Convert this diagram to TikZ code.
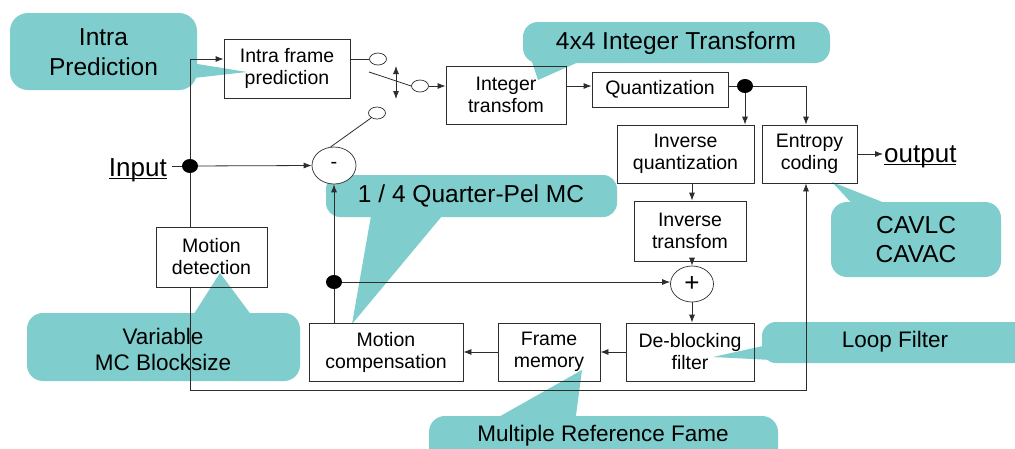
\documentclass[tikz,border=0pt]{standalone}
\usepackage{fontspec}
\setmainfont{Liberation Sans}
\usetikzlibrary{shapes.geometric,arrows.meta,calc}
\definecolor{tealtag}{RGB}{127,205,205}
\definecolor{ink}{RGB}{45,45,45}
\newcommand\boxfont{\fontsize{19.5}{22}\selectfont}
\newcommand\tagfont{\fontsize{24.5}{30}\selectfont}
\newcommand\tagfontsm{\fontsize{22.5}{26}\selectfont}
\newcommand\iofont{\fontsize{26}{30}\selectfont}
% underline set just below the baseline
\newcommand\ulword[1]{\setbox0\hbox{#1}\rlap{\rule[-3.2pt]{\wd0}{1pt}}\box0}

\begin{document}
\begin{tikzpicture}[x=1pt,y=-1pt,
  wire/.style={draw=ink,line width=0.8pt},
  arr/.style={wire,-{Latex[length=8pt,width=6pt]}},
  dblarr/.style={wire,{Latex[length=8pt,width=6pt]}-{Latex[length=8pt,width=6pt]}},
  blk/.style={draw=ink,line width=0.8pt,inner sep=0pt,align=center,font=\boxfont},
  jdot/.style={ellipse,fill=black,minimum width=16pt,minimum height=14pt,inner sep=0pt},
  swc/.style={ellipse,draw=ink,line width=0.7pt,fill=white,minimum width=17pt,minimum height=12pt,inner sep=0pt},
  opc/.style={ellipse,draw=ink,line width=0.7pt,fill=white,minimum width=44pt,minimum height=37pt,inner sep=0pt},
  tag/.style={fill=tealtag},
  tagtext/.style={align=center,inner sep=0pt,font=\tagfont},
  tagtextsm/.style={align=center,inner sep=0pt,font=\tagfontsm},
]
\useasboundingbox (0,0) rectangle (1015,448);
\fill[white] (0,0) rectangle (1015,448);
\clip (0,0) rectangle (1015,448);

% ---- callouts (drawn underneath the block diagram) ----
\fill[tag,rounded corners=18pt] (10,13) rectangle (197,90);
\fill[tag] (185,62) -- (247,72) -- (185,79) -- cycle;
\node[tagtext] (tIntra) at (103.5,52) {Intra\\Prediction};

\fill[tag,rounded corners=15pt] (523,22) rectangle (830,63);
\fill[tag] (530,56) -- (538,80) -- (592,56) -- cycle;
\node[tagtext] (tInt) at (676,43) {4x4 Integer Transform};

\fill[tag,rounded corners=14pt] (326,175) rectangle (617,217);
\fill[tag] (372,210) -- (352,324) -- (447,210) -- cycle;
\node[tagtext] (tQpel) at (471,196) {1 / 4 Quarter-Pel MC};

\fill[tag,rounded corners=16pt] (831,202) rectangle (1001,277);
\fill[tag] (857,209) -- (832,182) -- (900,209) -- cycle;
\node[tagtext,font=\fontsize{24.5}{29}\selectfont] (tCav) at (916,240) {CAVLC\\CAVAC};

\fill[tag,rounded corners=14pt] (762,322) rectangle (1035,363);
\fill[tag] (772,344) -- (713,357) -- (772,360) -- cycle;
\node[tagtextsm] (tLoop) at (895,342) {Loop Filter};

\fill[tag,rounded corners=16pt] (429,416) rectangle (778,470);
\fill[tag] (488,423) -- (582,370) -- (575,423) -- cycle;
\node[tagtextsm] (tMulti) at (603,436) {Multiple Reference Fame};

\fill[tag,rounded corners=16pt] (27,313) rectangle (300,381);
\fill[tag] (190,320) -- (220,273) -- (255,320) -- cycle;
\node[tagtextsm] (tVar) at (163,349) {Variable\\MC Blocksize};

% ---- blocks ----
\node[blk,minimum width=126pt,minimum height=59pt] (intra) at (287,68.5) {Intra frame\\prediction};
\node[blk,minimum width=120pt,minimum height=58pt] (itr) at (506,95) {Integer\\transfom};
\node[blk,minimum width=136pt,minimum height=35pt] (quant) at (660,89.5) {Quantization};
\node[blk,minimum width=137pt,minimum height=58pt] (iq) at (685.5,154) {Inverse\\quantization};
\node[blk,minimum width=95pt,minimum height=58pt] (ent) at (809.5,154) {Entropy\\coding};
\node[blk,minimum width=112pt,minimum height=60pt] (it) at (690,231) {Inverse\\transfom};
\node[blk,minimum width=128pt,minimum height=58pt] (db) at (690,352) {De-blocking\\filter};
\node[blk,minimum width=102pt,minimum height=58pt] (fm) at (549,352) {Frame\\memory};
\node[blk,minimum width=154pt,minimum height=58pt] (mc) at (386,352) {Motion\\compensation};
\node[blk,minimum width=111pt,minimum height=60pt] (md) at (211.5,257) {Motion\\detection};

% ---- adders ----
\node[opc] (minus) at (334,165.5) {\fontsize{20}{20}\selectfont -};
\node[opc,minimum width=43pt,minimum height=36pt] (plus) at (692,284) {\fontsize{26}{26}\selectfont +};

% ---- switch ----
\node[swc] (s1) at (378,59) {};
\node[swc] (s2) at (420,86) {};
\node[swc] (s3) at (377,113) {};
\coordinate (lever) at (369,72);
\coordinate (tgA) at (396,66);
\coordinate (tgB) at (396,99);

% ---- input / output ----
\node[font=\iofont,inner sep=0pt,anchor=base east] (input) at (167,176) {\ulword{Input}};
\node[font=\iofont,inner sep=0pt,anchor=base west] (output) at (884,162) {\ulword{output}};

% ---- connectors ----
\coordinate (j1) at (190,59);
\coordinate (ej) at (806,86);
\coordinate (bl) at (190,390);

\draw[wire] ($(input.east |- 0,166)+(5,0)$) -- (190,166) coordinate (injoin);
\draw[arr] (injoin) -- (j1) -- (intra.west |- j1);
\draw[arr] (injoin) -- (minus.west);
\draw[wire] (injoin) -- (injoin |- md.north);
\draw[arr] (injoin |- md.south) -- (bl) -| (ent.south -| ej);

\draw[wire] (intra.east |- s1) -- (s1.west);
\draw[wire] (lever) -- (s2.west);
\draw[dblarr] (tgA) -- (tgB);
\draw[wire] (minus.100) -- (s3.220);
\draw[arr] (s2.east) -- (itr.west |- s2);
\draw[arr] (itr.east |- s2) -- (quant.west |- s2);

\draw[wire] (quant.east |- 0,86) -- (745,86) coordinate (qjoin);
\draw[arr] (qjoin) -- (qjoin |- iq.north);
\draw[arr] (qjoin) -- (ej) -- (ej |- ent.north);
\draw[arr] (ent.east) -- ($(output.west |- ent.east)+(-1,0)$);

\draw[arr] (iq.south -| plus) -- (it.north -| plus);
\draw[arr] (it.south -| plus) -- (plus.north);
\draw[arr] (plus.south) -- (db.north -| plus);
\draw[arr] (db.west) -- (fm.east);
\draw[arr] (fm.west) -- (mc.east);

\draw[wire] (mc.north -| 334,0) -- (334,282) coordinate (mcjoin);
\draw[arr] (mcjoin) -- (minus.south);
\draw[arr] (mcjoin) -- (plus.west |- mcjoin);

% ---- junction dots ----
\node[jdot] (indot) at (injoin) {};
\node[jdot] (qdot) at (qjoin) {};
\node[jdot] (mcdot) at (mcjoin) {};
\end{tikzpicture}
\end{document}
